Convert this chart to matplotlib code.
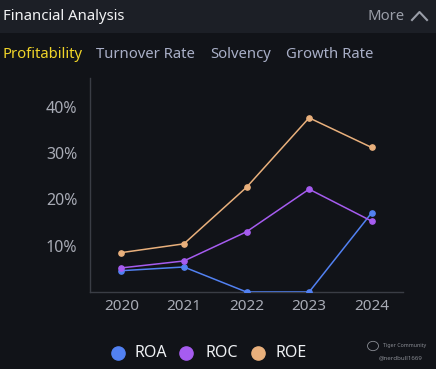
import matplotlib
matplotlib.use("Agg")
import matplotlib.pyplot as plt
from matplotlib.lines import Line2D
from matplotlib.patches import Rectangle, Circle

years = ["2020", "2021", "2022", "2023", "2024"]
roa = [4.6, 5.4, 0.0, 0.0, 17.1]
roc = [5.2, 6.7, 13.0, 22.2, 15.3]
roe = [8.5, 10.4, 22.6, 37.6, 31.2]
yticks = [10, 20, 30, 40]
ytick_labels = ["10%", "20%", "30%", "40%"]
tabs = ["Profitability", "Turnover Rate", "Solvency", "Growth Rate"]
series_names = ["ROA", "ROC", "ROE"]
colors = ["#5281f2", "#a65cf0", "#e9b07c"]

W, H = 436, 369
fig = plt.figure(figsize=(W / 100, H / 100), dpi=100)
fig.patch.set_facecolor("#111318")
plt.rcParams["font.family"] = ["Noto Sans", "DejaVu Sans"]

# header band
fig.add_artist(Rectangle((0, 1 - 33 / H), 1, 33 / H, transform=fig.transFigure,
                         facecolor="#1c1f26", edgecolor="none", zorder=0))
fig.text(3 / W, 1 - 16 / H, "Financial Analysis", color="#f2f3f5", fontsize=10.7,
         va="center", ha="left")
fig.text(405 / W, 1 - 16 / H, "More", color="#9a9ea8", fontsize=10.7,
         va="center", ha="right")
fig.add_artist(Line2D([412 / W, 419.5 / W, 427 / W],
                      [1 - 20 / H, 1 - 12 / H, 1 - 20 / H],
                      transform=fig.transFigure, color="#9a9ea8", lw=1.5))

# tabs
tab_x = [2, 96, 210, 286]
tab_colors = ["#f0d429", "#a9afc7", "#a9afc7", "#a9afc7"]
for t, x, c in zip(tabs, tab_x, tab_colors):
    fig.text(x / W, 1 - 55 / H, t, color=c, fontsize=10.7, va="center", ha="left")

# axes
ax = fig.add_axes([90 / W, (H - 292) / H, (403 - 90) / W, (292 - 78) / H])
ax.set_facecolor("#111318")
x = list(range(len(years)))
for vals, c in zip([roa, roc, roe], colors):
    ax.plot(x, vals, color=c, lw=1.1, marker="o", ms=3.8, mec=c, mfc=c, zorder=3)

ax.set_xlim(-0.5, len(years) - 0.5)
ax.set_ylim(0, 46.2)
ax.set_xticks(x)
ax.set_xticklabels(years)
ax.set_yticks(yticks)
ax.set_yticklabels(ytick_labels)
ax.tick_params(axis="both", length=0, colors="#a8abb5")
ax.tick_params(axis="y", pad=9, labelsize=11.5)
ax.tick_params(axis="x", pad=5, labelsize=11)
for s in ["top", "right"]:
    ax.spines[s].set_visible(False)
for s in ["left", "bottom"]:
    ax.spines[s].set_color("#3a3d45")
    ax.spines[s].set_linewidth(1.0)

# legend
leg_circle_x = [118, 186, 258]
leg_text_x = [134, 205, 275]
for name, c, cx, tx in zip(series_names, colors, leg_circle_x, leg_text_x):
    fig.add_artist(Line2D([cx / W], [1 - 353 / H], transform=fig.transFigure,
                          marker="o", ms=9.5, color=c, lw=0))
    fig.text(tx / W, 1 - 353 / H, name, color="#eef0f3", fontsize=11.5,
             va="center", ha="left")

# watermark
fig.text(383 / W, 1 - 345 / H, "Tiger Community", color="#8a8d94", fontsize=3.8,
         va="center", ha="left")
fig.text(379 / W, 1 - 358 / H, "@nerdbull1669", color="#8a8d94", fontsize=4.4,
         va="center", ha="left")
fig.add_artist(Circle((373 / W, 1 - 346 / H), 5.5 / W, transform=fig.transFigure,
                      facecolor="none", edgecolor="#8a8d94", lw=0.6))

fig.savefig("out.png", dpi=100, facecolor=fig.get_facecolor())
